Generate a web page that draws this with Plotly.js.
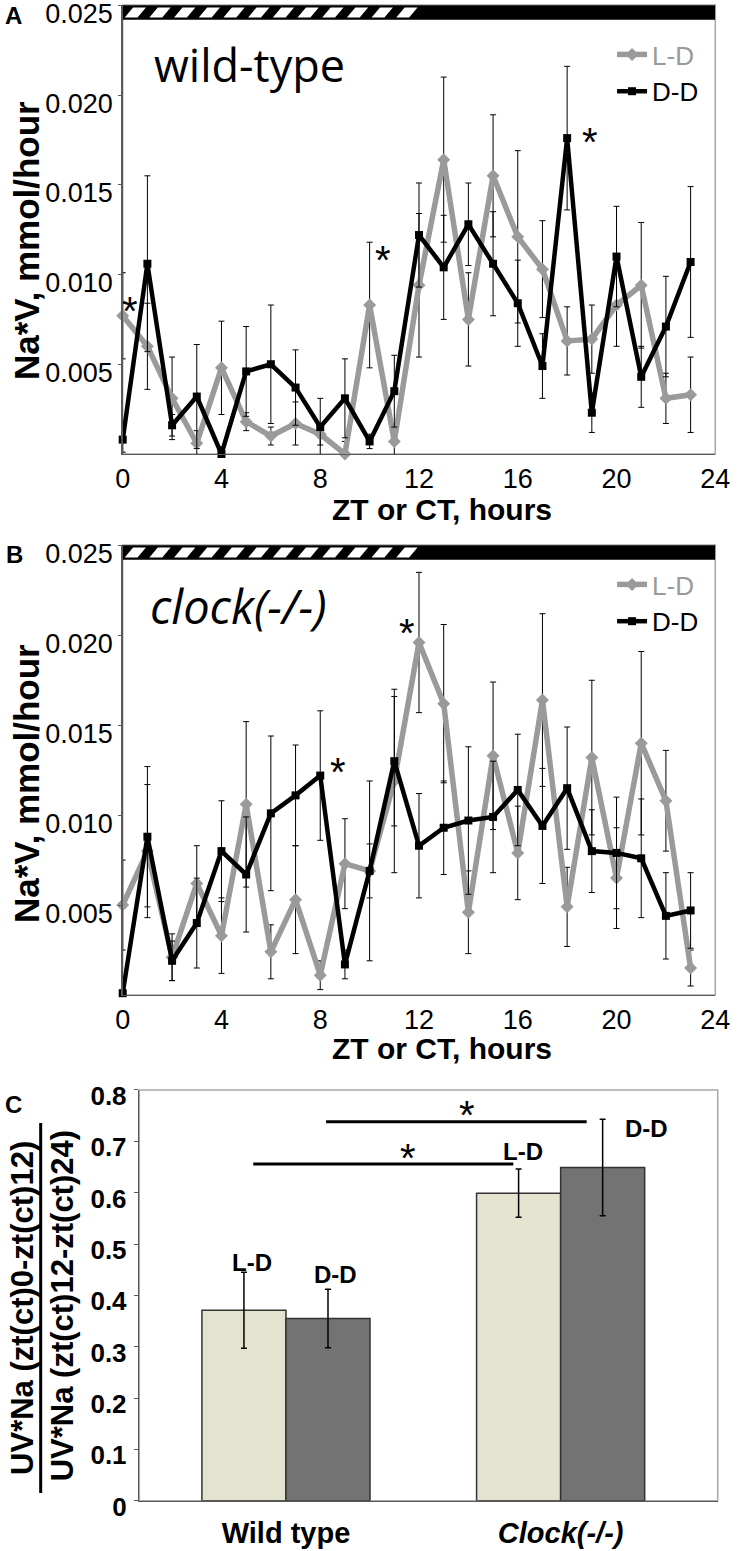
<!DOCTYPE html>
<html><head><meta charset="utf-8">
<script src="https://cdn.plot.ly/plotly-3.0.1.min.js"></script>
<style>html,body{margin:0;padding:0;background:#fff}#chart{width:741px;height:1551px}</style>
</head><body><div id="chart"></div>
<script>
// ---------- data ----------
const hours = [0,1,2,3,4,5,6,7,8,9,10,11,12,13,14,15,16,17,18,19,20,21,22,23];
const hourTicks = [0,4,8,12,16,20,24];
const naTicks = [0.005,0.010,0.015,0.020,0.025];
const lightPhase = [0,12];

// Panel A: wild-type
const wtLD    = [0.0077,0.0060,0.0031,0.0006,0.0048,0.0018,0.0010,0.0017,0.0011,0.0000,0.0083,0.0007,0.0094,0.0164,0.0075,0.0155,0.0121,0.0103,0.0063,0.0064,0.0083,0.0094,0.0031,0.0033];
const wtLDerr = [0.0024,0.0024,0.0023,0.0007,0.0026,0.0005,0.0005,0.0012,0.0006,0.0007,0.0035,0.0009,0.0040,0.0046,0.0026,0.0034,0.0048,0.0027,0.0019,0.0019,0.0023,0.0035,0.0014,0.0021];
const wtDD    = [0.0008,0.0106,0.0016,0.0032,0.0000,0.0046,0.0050,0.0037,0.0015,0.0031,0.0007,0.0035,0.0122,0.0104,0.0128,0.0106,0.0084,0.0049,0.0176,0.0023,0.0110,0.0043,0.0071,0.0107];
const wtDDerr = [0.0007,0.0049,0.0006,0.0029,0.0004,0.0025,0.0033,0.0021,0.0016,0.0022,0.0004,0.0020,0.0029,0.0029,0.0023,0.0029,0.0024,0.0018,0.0040,0.0011,0.0028,0.0017,0.0028,0.0042];

// Panel B: clock(-/-)
const clLD    = [0.0050,0.0080,0.0021,0.0062,0.0033,0.0106,0.0024,0.0053,0.0011,0.0073,0.0069,0.0119,0.0196,0.0162,0.0046,0.0133,0.0079,0.0164,0.0049,0.0132,0.0065,0.0140,0.0108,0.0015];
const clLDerr = [0.0025,0.0037,0.0013,0.0021,0.0021,0.0046,0.0015,0.0030,0.0008,0.0025,0.0015,0.0051,0.0039,0.0044,0.0023,0.0041,0.0026,0.0048,0.0022,0.0043,0.0028,0.0051,0.0028,0.0010];
const clDD    = [0.0001,0.0088,0.0019,0.0040,0.0080,0.0067,0.0101,0.0111,0.0122,0.0017,0.0069,0.0130,0.0083,0.0093,0.0097,0.0099,0.0114,0.0094,0.0115,0.0080,0.0079,0.0076,0.0044,0.0047];
const clDDerr = [0.0003,0.0039,0.0011,0.0025,0.0028,0.0032,0.0043,0.0028,0.0036,0.0008,0.0050,0.0036,0.0029,0.0026,0.0041,0.0031,0.0031,0.0032,0.0034,0.0023,0.0031,0.0033,0.0024,0.0021];

// Panel C
const groups = ["Wild type","Clock(-/-)"];
const groupLabels = ["Wild type","<i>Clock(-/-)</i>"];
const ratioLD = [0.371,0.599];
const ratioLDerr = [0.074,0.047];
const ratioDD = [0.355,0.649];
const ratioDDerr = [0.057,0.094];
const ratioTicks = [0,0.1,0.2,0.3,0.4,0.5,0.6,0.7,0.8];

// significance markers
const starsAx = [0.3,10.53,18.93], starsAy = [0.0085,0.01136,0.01793];
const starsBx = [8.72,11.51],      starsBy = [0.01294,0.02067];

// ---------- styles ----------
const GRAY = '#9a9a9a';
const AX = '#595959';
const SANS = 'Liberation Sans, Arial, sans-serif';
const NARROW = 'Liberation Sans Narrow, Liberation Sans, Arial, sans-serif';

function lineTrace(x, y, err, xa, ya, name, color, sym, msize, lw, legend) {
  return {
    type:'scatter', mode:'lines+markers', x:x, y:y, xaxis:xa, yaxis:ya,
    name:name, legend:legend, cliponaxis:false,
    line:{color:color, width:lw},
    marker:{symbol:sym, size:msize, color:color},
    error_y:{type:'data', array:err, visible:true, color:'#000', thickness:1, width:3}
  };
}

const data = [
  lineTrace(hours, wtLD, wtLDerr, 'x', 'y', "<span style='color:#9a9a9a'>L-D</span>", GRAY, 'diamond', 10, 5.5, 'legend'),
  lineTrace(hours, wtDD, wtDDerr, 'x', 'y', 'D-D', '#000', 'square', 8, 4.5, 'legend'),
  lineTrace(hours, clLD, clLDerr, 'x2', 'y2', "<span style='color:#9a9a9a'>L-D</span>", GRAY, 'diamond', 10, 5.5, 'legend2'),
  lineTrace(hours, clDD, clDDerr, 'x2', 'y2', 'D-D', '#000', 'square', 8, 4.5, 'legend2'),
  {type:'bar', x:groups, y:ratioLD, xaxis:'x3', yaxis:'y3', showlegend:false,
   marker:{color:'#e3e3cf', line:{color:'#333', width:1.5}},
   error_y:{type:'data', array:ratioLDerr, visible:true, color:'#000', thickness:1.5, width:3}},
  {type:'bar', x:groups, y:ratioDD, xaxis:'x3', yaxis:'y3', showlegend:false,
   marker:{color:'#737373', line:{color:'#333', width:1.5}},
   error_y:{type:'data', array:ratioDDerr, visible:true, color:'#000', thickness:1.5, width:3}}
];

function timeX(domain, anchor) {
  return {domain:domain, anchor:anchor, range:[0,24], tickvals:hourTicks, ticks:'', 
    showline:true, linecolor:AX, linewidth:1.5, showgrid:false, zeroline:false,
    tickfont:{family:NARROW, size:27}, ticklabelstandoff:0};
}
function naY(domain, anchor) {
  return {domain:domain, anchor:anchor, range:[0,0.02502], tickvals:naTicks, tickformat:'.3f', ticks:'outside',
    ticklen:3, tickcolor:AX, showline:true, linecolor:AX, linewidth:1.5, showgrid:false, zeroline:false,
    tickfont:{family:NARROW, size:27}, ticklabelshift:8, ticklabelstandoff:0, ticklabeloverflow:'allow'};
}

const domX = [0.1656, 0.9653];
const layout = {
  width:741, height:1551, margin:{l:0,r:0,t:0,b:0},
  paper_bgcolor:'#fff', plot_bgcolor:'#fff',
  font:{family:SANS, color:'#000'},
  xaxis: timeX(domX, 'y'),
  yaxis: naY([0.7073, 0.9968], 'x'),
  xaxis2: timeX(domX, 'y2'),
  yaxis2: naY([0.35848, 0.64861], 'x2'),
  xaxis3: {domain:[0.188, 0.9686], anchor:'y3', type:'category', range:[-0.534, 1.572],
    tickvals:groups, ticktext:groupLabels, ticks:'', showline:true, linecolor:AX, linewidth:1.5,
    tickfont:{family:SANS, size:29, weight:'bold'}, ticklabelstandoff:6},
  yaxis3: {domain:[0.03243, 0.29723], anchor:'x3', range:[0,0.8], tickvals:ratioTicks, ticks:'outside',
    ticklen:4, tickcolor:AX, showline:true, linecolor:AX, linewidth:1.5, showgrid:false, zeroline:false,
    tickfont:{family:SANS, size:26, weight:'bold'}, ticklabelshift:6, ticklabelstandoff:2, ticklabeloverflow:'allow'},
  barmode:'group', bargap:0.388, bargroupgap:0,
  legend:{x:0.826, y:0.980, xanchor:'left', yanchor:'top', bgcolor:'rgba(0,0,0,0)',
    font:{family:SANS, size:26}, itemwidth:30, tracegroupgap:0},
  legend2:{x:0.826, y:0.6383, xanchor:'left', yanchor:'top', bgcolor:'rgba(0,0,0,0)',
    font:{family:SANS, size:26}, itemwidth:30, tracegroupgap:0},
  shapes:[], annotations:[]
};

// frames
[['x','y'],['x2','y2'],['x3','y3']].forEach(function(p){
  layout.shapes.push({type:'rect', xref:p[0]+' domain', yref:p[1]+' domain', x0:0, x1:1, y0:0, y1:1,
    line:{color:'#a8a8a8', width:1.5}, layer:'below'});
});

// light/dark bars (hatched = light phase, black = dark phase)
[['x','y'],['x2','y2']].forEach(function(p){
  const yb = 0.0242, yt = 0.025;
  layout.shapes.push({type:'rect', xref:p[0], yref:p[1], x0:0, x1:24, y0:yb, y1:yt,
    fillcolor:'#000', line:{width:0}, layer:'above'});
  for (let i = lightPhase[0]; i < lightPhase[1]; i++) {
    const b0 = yb + 0.00012, t0 = yt - 0.00012;
    layout.shapes.push({type:'path', xref:p[0], yref:p[1], layer:'above',
      path:'M '+(i+0.08)+' '+b0+' L '+(i+0.6)+' '+b0+' L '+(i+0.94)+' '+t0+' L '+(i+0.42)+' '+t0+' Z',
      fillcolor:'#fff', line:{width:0}});
  }
});

// significance lines in C
layout.shapes.push({type:'line', xref:'paper', yref:'paper', x0:0.3418, x1:0.6927, y0:0.2495, y1:0.2495, line:{color:'#000', width:3}});
layout.shapes.push({type:'line', xref:'paper', yref:'paper', x0:0.4400, x1:0.7917, y0:0.2768, y1:0.2768, line:{color:'#000', width:3}});
// fraction bar of C y-title
layout.shapes.push({type:'line', xref:'paper', yref:'paper', x0:0.0549, x1:0.0549, y0:0.0374, y1:0.2760, line:{color:'#000', width:3}});

function ann(o){ layout.annotations.push(Object.assign({showarrow:false, xref:'paper', yref:'paper', xanchor:'center', yanchor:'middle'}, o)); }

// panel letters
ann({text:'<b>A</b>', x:0.004, y:1.0, xanchor:'left', yanchor:'top', font:{size:24}});
ann({text:'<b>B</b>', x:0.006, y:0.6422, xanchor:'left', font:{size:24}});
ann({text:'<b>C</b>', x:0.004, y:0.2882, xanchor:'left', font:{size:24}});
// panel titles
ann({text:'wild-type', x:0.2051, y:0.9584, xanchor:'left', font:{family:'Open Sans', size:45}});
ann({text:'<i>clock(-/-)</i>', x:0.1997, y:0.6093, xanchor:'left', font:{family:'Open Sans', size:47}});
// axis titles
ann({text:'<b>Na*V, mmol/hour</b>', textangle:-90, x:0.0351, y:0.8446, font:{size:35}});
ann({text:'<b>Na*V, mmol/hour</b>', textangle:-90, x:0.0351, y:0.4945, font:{size:35}});
ann({text:'<b>ZT or CT, hours</b>', x:0.5965, y:0.6712, font:{size:30}});
ann({text:'<b>ZT or CT, hours</b>', x:0.5965, y:0.3243, font:{size:30}});
ann({text:'<b>UV*Na (zt(ct)0-zt(ct)12)</b>', textangle:-90, x:0.0310, y:0.1567, font:{size:31}});
ann({text:'<b>UV*Na (zt(ct)12-zt(ct)24)</b>', textangle:-90, x:0.0855, y:0.1580, font:{size:31}});
// bar labels C
ann({text:'<b>L-D</b>', x:0.3401, y:0.1857, font:{size:24}});
ann({text:'<b>D-D</b>', x:0.4521, y:0.1780, font:{size:24}});
ann({text:'<b>L-D</b>', x:0.7058, y:0.2573, font:{size:24}});
ann({text:'<b>D-D</b>', x:0.8731, y:0.2727, font:{size:24}});
ann({text:'*', x:0.5506, y:0.2598, yshift:-10, font:{size:40}});
ann({text:'*', x:0.6302, y:0.2876, yshift:-10, font:{size:40}});
// stars A/B
starsAx.forEach(function(x,i){ ann({text:'*', xref:'x', yref:'y', x:x, y:starsAy[i], yshift:-10, font:{size:40}}); });
starsBx.forEach(function(x,i){ ann({text:'*', xref:'x2', yref:'y2', x:x, y:starsBy[i], yshift:-10, font:{size:40}}); });

Plotly.newPlot('chart', data, layout, {staticPlot:true});
</script></body></html>
